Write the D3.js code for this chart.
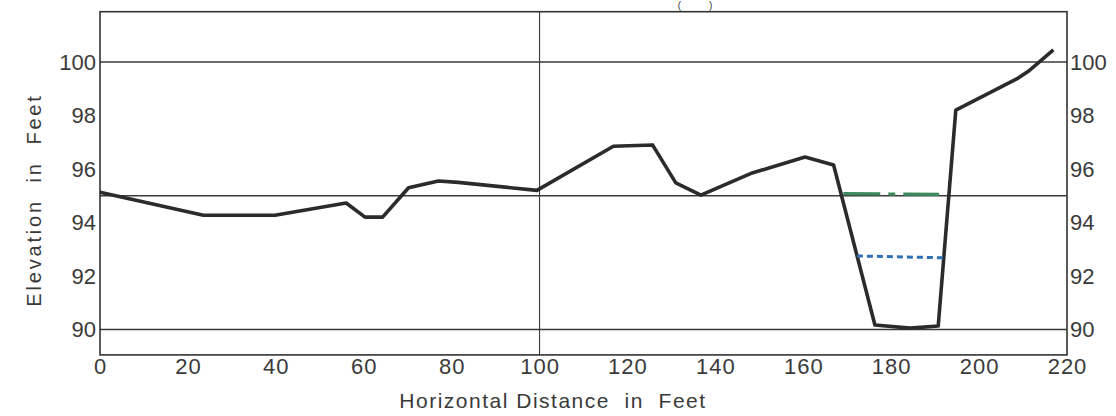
<!DOCTYPE html>
<html>
<head>
<meta charset="utf-8">
<script src="https://cdn.jsdelivr.net/npm/d3@7"></script>
<style>
  html, body { margin: 0; padding: 0; background: #fff; }
  svg { display: block; }
  text { font-family: "Liberation Sans", "DejaVu Sans", sans-serif; fill: #3a3a3a; }
</style>
</head>
<body>
<svg id="chart" width="1116" height="416"></svg>
<script>
// ---- data ----
const distance  = [0, 23.5, 39.8, 56, 60.3, 64.3, 70.2, 77, 81.5, 99.4, 116.8, 125.7, 131, 136.7, 148, 160.4, 166.9, 176.3, 184.3, 190.7, 194.7, 208.9, 211.2, 216.9];
const elevation = [95.13, 94.27, 94.27, 94.73, 94.2, 94.2, 95.3, 95.55, 95.5, 95.2, 96.85, 96.9, 95.48, 95.02, 95.83, 96.45, 96.15, 90.17, 90.05, 90.13, 98.2, 99.4, 99.65, 100.45];

const greenX = [169.1, 190.9];
const greenY = [95.08, 95.05];
const blueX  = [172.2, 191.9];
const blueY  = [92.75, 92.68];

const xTicks = [0, 20, 40, 60, 80, 100, 120, 140, 160, 180, 200, 220];
const yTicks = [90, 92, 94, 96, 98, 100];
const hGrid  = [90, 95, 100];
const vGrid  = [100];
const xTitle = "Horizontal Distance  in  Feet";
const yTitle = "Elevation  in  Feet";
const header = "(          )";

// ---- scales ----
const x = d3.scaleLinear().domain([0, 220]).range([100, 1067]);
const y = d3.scaleLinear().domain([90, 100]).range([329.5, 62]);
const yTop = 101.88, yBot = 89.05;

const svg = d3.select("#chart");

// gridlines
svg.append("g").selectAll("line").data(hGrid).join("line")
  .attr("x1", x(0)).attr("x2", x(220))
  .attr("y1", d => y(d)).attr("y2", d => y(d))
  .attr("stroke", "#3a3a3a").attr("stroke-width", 1.3);
svg.append("g").selectAll("line").data(vGrid).join("line")
  .attr("x1", d => x(d)).attr("x2", d => x(d))
  .attr("y1", y(yTop)).attr("y2", y(yBot))
  .attr("stroke", "#3a3a3a").attr("stroke-width", 1.1);

// frame
svg.append("rect")
  .attr("x", x(0)).attr("y", y(yTop))
  .attr("width", x(220) - x(0)).attr("height", y(yBot) - y(yTop))
  .attr("fill", "none").attr("stroke", "#333").attr("stroke-width", 1.6);

// axes (labels only, using d3 axes)
const axisStyle = g => {
  g.select(".domain").remove();
  g.selectAll(".tick line").remove();
  g.selectAll("text").attr("font-size", 22).attr("fill", "#3a3a3a")
    .attr("font-family", "'Liberation Sans', 'DejaVu Sans', sans-serif");
};
svg.append("g").attr("transform", `translate(${x(0) - 4},0)`)
  .call(d3.axisLeft(y).tickValues(yTicks).tickSize(0).tickPadding(0).tickFormat(d3.format("d")))
  .call(axisStyle);
svg.append("g").attr("transform", `translate(${x(220) + 3},0)`)
  .call(d3.axisRight(y).tickValues(yTicks).tickSize(0).tickPadding(0).tickFormat(d3.format("d")))
  .call(axisStyle);
svg.append("g").attr("transform", `translate(0,${y(yBot) + 3})`)
  .call(d3.axisBottom(x).tickValues(xTicks).tickSize(0).tickPadding(0).tickFormat(d3.format("d")))
  .call(axisStyle)
  .selectAll("text").attr("dy", "0.72em").attr("letter-spacing", 1);

// titles
svg.append("text")
  .attr("x", 553).attr("y", 408)
  .attr("text-anchor", "middle")
  .attr("font-size", 21).attr("letter-spacing", 1.5)
  .style("white-space", "pre")
  .text(xTitle);
svg.append("text")
  .attr("transform", "translate(41,200) rotate(-90)")
  .attr("text-anchor", "middle")
  .attr("font-size", 20).attr("letter-spacing", 2.8)
  .style("white-space", "pre")
  .text(yTitle);

// header remnant (top edge)
svg.append("text")
  .attr("x", 695).attr("y", 9)
  .attr("text-anchor", "middle")
  .attr("font-size", 10)
  .style("white-space", "pre")
  .text(header);

// profile line
const pts = distance.map((d, i) => [d, elevation[i]]);
const line = d3.line().x(d => x(d[0])).y(d => y(d[1]));
svg.append("path").datum(pts)
  .attr("d", line)
  .attr("fill", "none").attr("stroke", "#2b2b2b")
  .attr("stroke-width", 3.6).attr("stroke-linejoin", "round");

// green water surface (dash-dot)
svg.append("path").datum(greenX.map((d, i) => [d, greenY[i]]))
  .attr("d", line)
  .attr("fill", "none").attr("stroke", "#3d8a5e")
  .attr("stroke-width", 3.2).attr("stroke-dasharray", "37 8 7 8 40");

// blue water surface (dashed)
svg.append("path").datum(blueX.map((d, i) => [d, blueY[i]]))
  .attr("d", line)
  .attr("fill", "none").attr("stroke", "#2f6fb3")
  .attr("stroke-width", 3).attr("stroke-dasharray", "6 4");
</script>
</body>
</html>
